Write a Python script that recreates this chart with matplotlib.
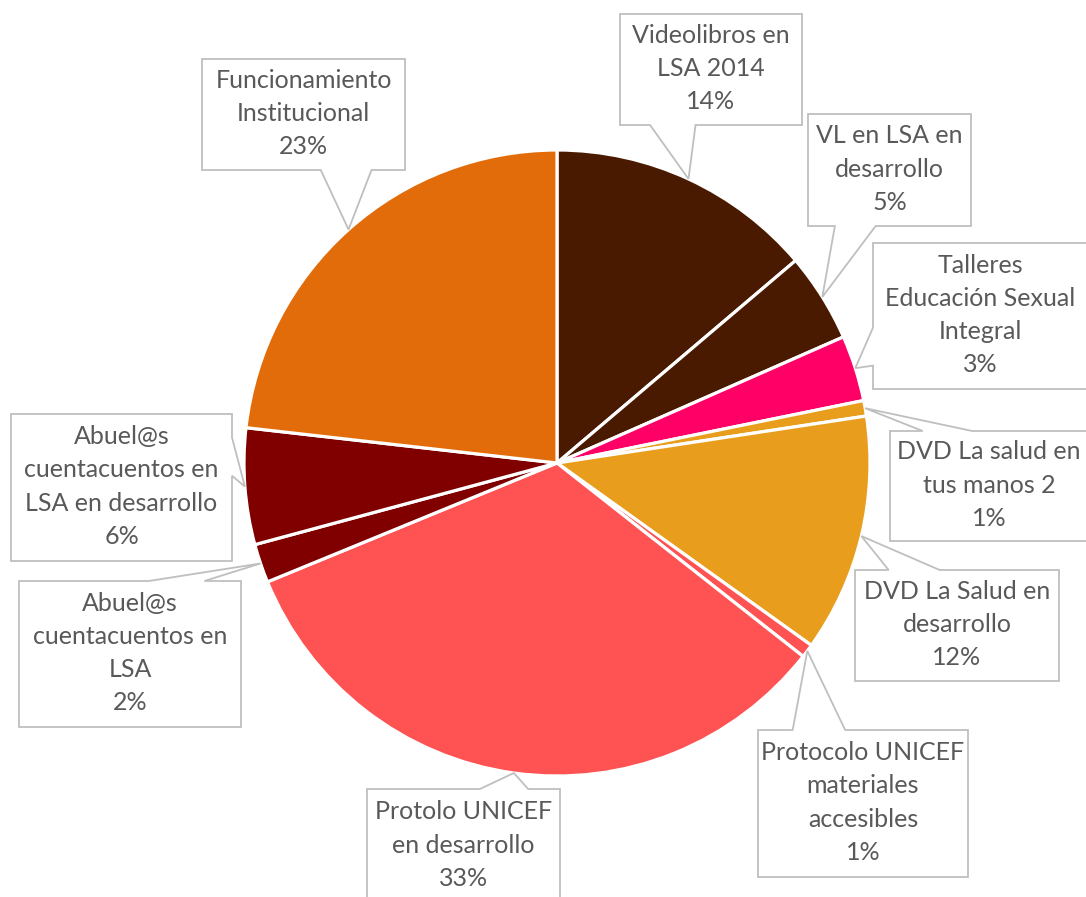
import numpy as np
import matplotlib as mpl
mpl.use('Agg')
import matplotlib.pyplot as plt
from matplotlib.patches import Polygon

# data (percent shares, clockwise from 12 o'clock)
labels = ["Videolibros en\nLSA 2014",
          "VL en LSA en\ndesarrollo",
          "Talleres\nEducación Sexual\nIntegral",
          "DVD La salud en\ntus manos 2",
          "DVD La Salud en\ndesarrollo",
          "Protocolo UNICEF\nmateriales\naccesibles",
          "Protolo UNICEF\nen desarrollo",
          "Abuel@s\ncuentacuentos en\nLSA",
          "Abuel@s\ncuentacuentos en\nLSA en desarrollo",
          "Funcionamiento\nInstitucional"]
values = [13.8, 4.6, 3.4, 0.8, 12.3, 0.7, 33.2, 2.0, 6.0, 23.2]
colors = ["#4a1a00", "#4a1a00", "#ff0066", "#e89e1c", "#e89e1c",
          "#ff5252", "#ff5252", "#800000", "#800000", "#e36c0a"]

# layout of the callout boxes in pixels: center x, center y, width, height, pointer side
boxes = [(711, 69.5, 182, 111, 'bottom'),
         (889.5, 170, 163, 112, 'bottom'),
         (980, 316, 214, 146, 'left'),
         (989, 486, 198, 110, 'top'),
         (957, 625.5, 204, 111, 'top'),
         (863, 803.5, 210, 147, 'top'),
         (463.5, 846, 193, 114, 'top'),
         (130, 654, 222, 146, 'top'),
         (121.5, 487.5, 221, 147, 'right'),
         (303.5, 114.5, 203, 111, 'bottom')]

W, H = 1086, 897
cx, cy, R = 557, 463, 313

fig = plt.figure(figsize=(W / 100, H / 100), dpi=100)
ax = fig.add_axes([0, 0, 1, 1])

ax.pie(values, colors=colors, startangle=90, counterclock=False,
       radius=R, center=(cx, H - cy),
       wedgeprops=dict(edgecolor='white', linewidth=2.3))
ax.set_xlim(0, W)
ax.set_ylim(0, H)
ax.set_aspect('auto')
ax.axis('off')

total = sum(values)
cum = np.cumsum([0] + values)
for i, (lab, v) in enumerate(zip(labels, values)):
    mid = (cum[i] + v / 2) / total * 2 * np.pi
    tx = cx + R * np.sin(mid)
    ty = cy - R * np.cos(mid)
    bx, by, bw, bh, side = boxes[i]
    x0, x1 = bx - bw / 2, bx + bw / 2
    y0, y1 = by - bh / 2, by + bh / 2
    # pointer base on the chosen edge
    if side in ('top', 'bottom'):
        f = 0.29 if tx < bx else 0.71
        c = x0 + f * bw
        hw = 0.125 * bw
    else:
        f = 0.29 if ty < by else 0.71
        c = y0 + f * bh
        hw = 0.13 * bh
    if side == 'top':
        pts = [(x0, y0), (c - hw, y0), (tx, ty), (c + hw, y0), (x1, y0), (x1, y1), (x0, y1)]
    elif side == 'bottom':
        pts = [(x0, y0), (x1, y0), (x1, y1), (c + hw, y1), (tx, ty), (c - hw, y1), (x0, y1)]
    elif side == 'right':
        pts = [(x0, y0), (x1, y0), (x1, c - hw), (tx, ty), (x1, c + hw), (x1, y1), (x0, y1)]
    else:
        pts = [(x0, y0), (x1, y0), (x1, y1), (x0, y1), (x0, c + hw), (tx, ty), (x0, c - hw)]
    pts = [(px, H - py) for px, py in pts]
    ax.add_patch(Polygon(pts, closed=True, facecolor='white', edgecolor='#bfbfbf',
                         linewidth=1.3, zorder=5, clip_on=False))
    ax.text(bx, H - by + 1, lab + "\n%d%%" % round(v), ha='center', va='center',
            fontsize=18, color='#595959', family='Lato', linespacing=1.54, zorder=6)

fig.savefig('out.png', dpi=100)
